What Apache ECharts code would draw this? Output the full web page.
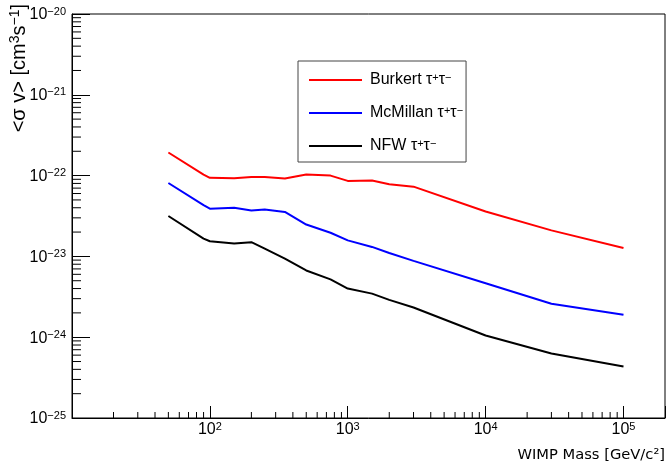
<!DOCTYPE html>
<html><head><meta charset="utf-8">
<script src="https://cdn.jsdelivr.net/npm/echarts@6/dist/echarts.min.js"></script>
<style>html,body{margin:0;padding:0;background:#fff}#c{width:667px;height:464px}</style>
</head><body><div id="c"></div>
<script>
// ---- data ----
const masses   = [50, 90, 100, 150, 200, 250, 350, 500, 750, 1000, 1500, 2000, 3000, 10000, 30000, 100000];
const burkert  = [1.93e-22, 1.03e-22, 9.4e-23, 9.3e-23, 9.6e-23, 9.6e-23, 9.2e-23, 1.03e-22, 1.0e-22, 8.6e-23, 8.7e-23, 7.8e-23, 7.3e-23, 3.6e-23, 2.1e-23, 1.27e-23];
const mcmillan = [8.1e-23, 4.3e-23, 3.9e-23, 4.0e-23, 3.7e-23, 3.8e-23, 3.55e-23, 2.48e-23, 1.96e-23, 1.58e-23, 1.31e-23, 1.1e-23, 8.8e-24, 4.65e-24, 2.6e-24, 1.9e-24];
const nfw      = [3.16e-23, 1.66e-23, 1.54e-23, 1.44e-23, 1.5e-23, 1.25e-23, 9.4e-24, 6.7e-24, 5.2e-24, 4.0e-24, 3.46e-24, 2.9e-24, 2.33e-24, 1.05e-24, 6.3e-25, 4.35e-25];
const seriesNames  = ['Burkert', 'McMillan', 'NFW'];
const seriesColors = ['#ff0000', '#0000ff', '#000000'];
const xRange = [10, 2e5];
const yRange = [1e-25, 1e-20];
const xDecades = [10, 100, 1000, 10000, 100000];
const yDecades = [1e-25, 1e-24, 1e-23, 1e-22, 1e-21];
const yLabelValues = [1e-25, 1e-24, 1e-23, 1e-22, 1e-21, 1e-20];
const minorMultipliers = [2, 3, 4, 5, 6, 7, 8, 9];
const xTitle = 'WIMP Mass [GeV/c²]';

// ---- helpers ----
const xMinor = [];
xDecades.forEach(d => minorMultipliers.forEach(k => { const v = d * k; if (v < xRange[1]) xMinor.push(v); }));
const yMinor = [];
yDecades.forEach(d => minorMultipliers.forEach(k => yMinor.push(d * k)));

function exponentOf(v) {
  const l = Math.log10(v); const e = Math.round(l);
  return Math.abs(l - e) < 1e-6 ? e : null;
}
const FONT = 'Liberation Sans, Arial, Helvetica, sans-serif';
const labelRich = {
  b: { fontSize: 16, fontFamily: FONT, color: '#000', lineHeight: 18 },
  s: { fontSize: 11, fontFamily: FONT, color: '#000', verticalAlign: 'top', lineHeight: 11 }
};
const zrLabelRich = {
  b: { fontSize: 16, fontFamily: FONT, fill: '#000', lineHeight: 18 },
  s: { fontSize: 11, fontFamily: FONT, fill: '#000', verticalAlign: 'top', lineHeight: 11 }
};
const zrTitleRich = {
  n: { fontSize: 20, fontFamily: FONT, fill: '#000', lineHeight: 22 },
  s: { fontSize: 14, fontFamily: FONT, fill: '#000', verticalAlign: 'top', lineHeight: 14 }
};

const chart = echarts.init(document.getElementById('c'), null, { renderer: 'canvas' });

function tickSeries(values, isX, len) {
  return {
    type: 'custom', silent: true, clip: false, z: 5,
    data: values.map(v => isX ? [v, yRange[0]] : [xRange[0], v]),
    renderItem: (params, api) => {
      const p = api.coord([api.value(0), api.value(1)]);
      const shape = isX ? { x1: p[0], y1: p[1], x2: p[0], y2: p[1] - len }
                        : { x1: p[0], y1: p[1], x2: p[0] + len, y2: p[1] };
      return { type: 'line', shape, style: { stroke: '#000', lineWidth: 1 } };
    }
  };
}
const yLabelSeries = {
  type: 'custom', silent: true, clip: false, z: 5,
  data: yLabelValues.map(v => [xRange[0], v]),
  renderItem: (params, api) => {
    const v = api.value(1);
    const p = api.coord([api.value(0), v]);
    return { type: 'text', x: p[0] - 6, y: p[1] + 1,
      style: { text: '{b|10}{s|\u2212' + (-exponentOf(v)) + '}', rich: zrLabelRich, textAlign: 'right', textVerticalAlign: 'middle', fill: '#000' } };
  }
};
const yTitleSeries = {
  type: 'custom', silent: true, clip: false, z: 5,
  data: [[xRange[0], yRange[1]]],
  renderItem: (params, api) => {
    const p = api.coord([api.value(0), api.value(1)]);
    return { type: 'text', x: p[0] - 53, y: p[1] - 10, rotation: Math.PI / 2,
      style: { text: '{n|<\u03c3 v> [cm}{s|3}{n|s}{s|\u22121}{n|]}', rich: zrTitleRich, textAlign: 'right', textVerticalAlign: 'middle', fill: '#000' } };
  }
};

const lineData = [burkert, mcmillan, nfw];
const lineSeries = seriesNames.map((n, i) => ({
  name: n, type: 'line', symbol: 'none', showSymbol: false, z: 10,
  lineStyle: { color: seriesColors[i], width: 2 },
  itemStyle: { color: seriesColors[i] },
  data: masses.map((m, j) => [m, lineData[i][j]])
}));

chart.setOption({
  animation: false,
  backgroundColor: '#fff',
  grid: { left: 72, right: 2, top: 14, bottom: 46, show: true, borderColor: '#000', borderWidth: 1, containLabel: false, outerBoundsMode: 'none' },
  xAxis: {
    type: 'log', logBase: 10, min: xRange[0], max: xRange[1],
    axisLine: { show: true, lineStyle: { color: '#000', width: 1 } },
    axisTick: { show: true, inside: true, length: 12, lineStyle: { color: '#000' } },
    minorTick: { show: false }, splitLine: { show: false },
    axisLabel: {
      margin: 3, color: '#000', hideOverlap: false,
      formatter: v => { const e = exponentOf(v); return (e === null || e === 1) ? '' : '{b|10}{s|' + e + '}'; },
      rich: labelRich
    }
  },
  yAxis: {
    type: 'log', logBase: 10, min: yRange[0], max: yRange[1],
    axisLine: { show: true, lineStyle: { color: '#000', width: 1 } },
    axisTick: { show: true, inside: true, length: 18, lineStyle: { color: '#000' } },
    minorTick: { show: false }, splitLine: { show: false },
    axisLabel: { show: false }
  },
  legend: {
    data: seriesNames, orient: 'vertical', left: 298, top: 61,
    padding: [11, 3, 8, 11], itemGap: 17, itemWidth: 53, itemHeight: 2, icon: 'rect',
    borderColor: '#444', borderWidth: 1, backgroundColor: '#fff',
    textStyle: { fontSize: 16, fontFamily: FONT, color: '#000', padding: [0, 0, 0, 3],
      rich: { t: { fontSize: 16, fontFamily: FONT, color: '#000' },
              s: { fontSize: 11, fontFamily: FONT, color: '#000', verticalAlign: 'top', lineHeight: 10 } } },
    formatter: n => n + ' {t|\u03c4}{s|+}{t|\u03c4}{s|\u2212}'
  },
  graphic: [
    { type: 'text', x: 665, y: 455, style: { text: xTitle, fontSize: 14.7, fontFamily: '"DejaVu Sans"', fill: '#000', textAlign: 'right', textVerticalAlign: 'middle' } }
  ],
  series: [
    ...lineSeries,
    tickSeries(xMinor, true, 6),
    tickSeries(yMinor, false, 9),
    yLabelSeries,
    yTitleSeries
  ]
});
</script></body></html>
